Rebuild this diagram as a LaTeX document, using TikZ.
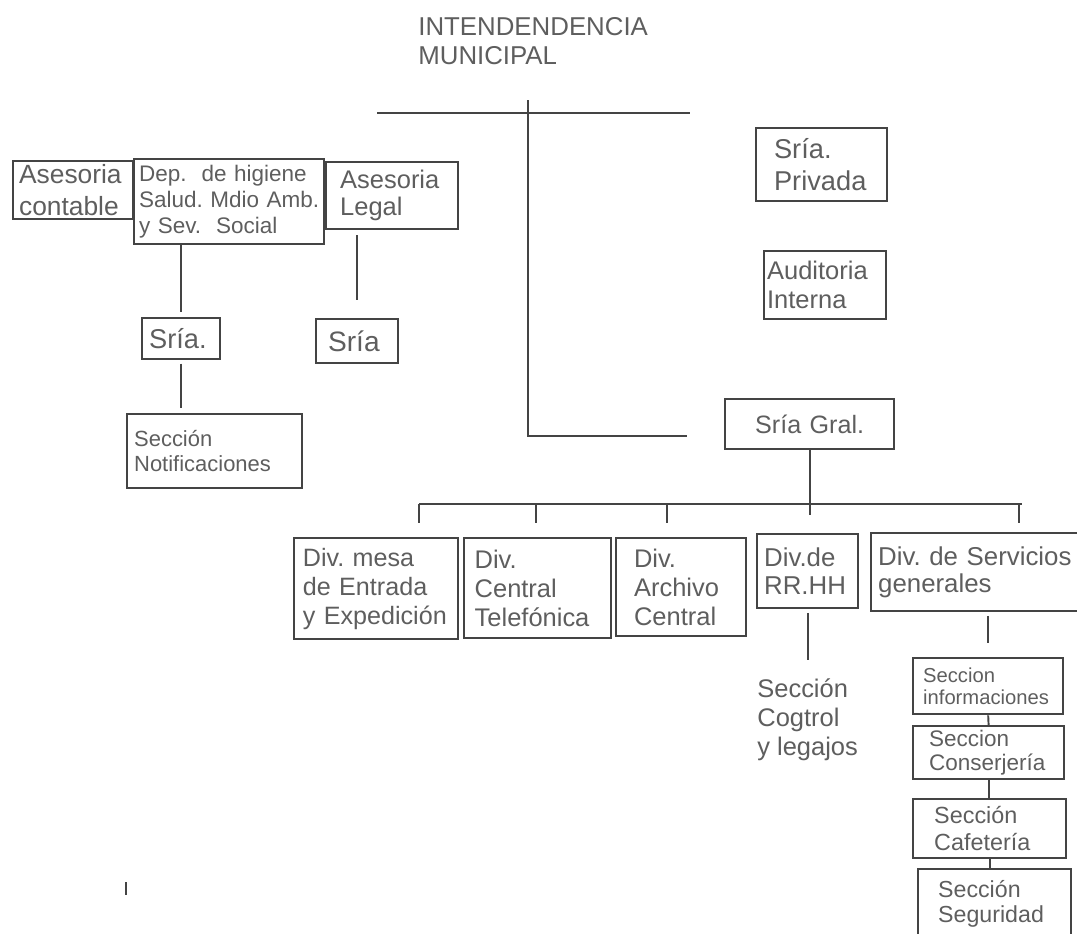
\documentclass[tikz,border=0pt]{standalone}
\usepackage{fontspec}
\setmainfont{Liberation Sans}
\definecolor{linegray}{HTML}{444444}
\definecolor{textgray}{HTML}{5E5E5E}
\newcommand{\fsz}[2]{\fontsize{#1}{#2}\selectfont}
\tikzset{
  unit/.style={draw=linegray, line width=1.3pt, text=textgray, anchor=north west, align=left, inner ysep=2pt},
  link/.style={draw=linegray, line width=1.1pt},
}

\begin{document}
\begin{tikzpicture}[x=0.02cm, y=-0.02cm]
        \useasboundingbox (0,0) rectangle (1077,933);
        % head
        \node[anchor=north west, inner sep=0pt, align=left, text=textgray, font=\fsz{14.7}{16.5}] (title) at (418,17) {INTENDENDENCIA\\MUNICIPAL};
        \coordinate (topL) at (377,113);
        \coordinate (topR) at (690,113);
        \coordinate (stemtop) at (528,100);
        \coordinate (botR) at (687,436);
        \draw[link] (topL) -- (topR);
        \draw[link] (stemtop) |- (botR);
        % left branch
        \node[unit, font=\fsz{15}{18}, inner xsep=3.4pt, text width=61.5pt, minimum height=32.4pt] (asecont) at (12,160) {Asesoria\\contable};
        \node[unit, font=\fsz{12.8}{15}, inner xsep=2.8pt, text width=102.5pt, minimum height=48.4pt] (dephig) at (133,158) {\mbox{Dep.\ \ de higiene}\\\mbox{Salud.\ Mdio Amb.}\\\mbox{y Sev.\ \ Social}};
        \node[unit, font=\fsz{14.5}{15.3}, inner xsep=8pt, text width=59pt, minimum height=38.1pt] (aselegal) at (325,161) {Asesoria\\Legal};
        \node[unit, font=\fsz{15.5}{17}, inner xsep=4pt, text width=36.4pt, minimum height=23.3pt] (sria1) at (141,317) {Sría.};
        \node[unit, font=\fsz{12.5}{14}, inner xsep=4pt, text width=91.6pt, minimum height=42.1pt] (notif) at (126,413) {Sección\\Notificaciones};
        \node[unit, font=\fsz{16}{17}, inner xsep=6.8pt, text width=33.1pt, minimum height=25pt] (sria2) at (315,318) {Sría};
        \draw[link, shorten >=3pt] (dephig.south -| sria1.north) -- (sria1.north);
        \draw[link, shorten <=2pt, shorten >=3pt] (sria1.south) -- (sria1.south |- notif.north);
        \draw[link, shorten <=3pt, shorten >=10pt] (aselegal.south -| sria2.north) -- (sria2.north);
        % right column
        \node[unit, font=\fsz{15.5}{18}, inner xsep=10.2pt, text width=54.1pt, minimum height=41.5pt] (sriapriv) at (755,127) {Sría.\\Privada};
        \node[unit, font=\fsz{14.5}{16.5}, inner xsep=1.7pt, text width=66pt, minimum height=38.7pt] (auditoria) at (763,250) {Auditoria\\Interna};
        \node[unit, font=\fsz{14.3}{16}, align=center, inner xsep=3pt, text width=90.2pt, minimum height=28.5pt] (sriagral) at (724,398) {Sría Gral.};
        % divisions
        \node[unit, font=\fsz{14.3}{16.5}, inner xsep=5pt, text width=83.3pt, minimum height=57.5pt] (divmesa) at (293,537) {Div.\ mesa\\de Entrada\\y Expedición};
        \node[unit, font=\fsz{14.5}{16.5}, inner xsep=6pt, text width=71.6pt, minimum height=56.9pt] (divtel) at (463,537) {Div.\\Central\\Telefónica};
        \node[unit, font=\fsz{14.5}{16.5}, inner xsep=10.2pt, text width=53.6pt, minimum height=55.8pt] (divarch) at (615,537) {Div.\\Archivo\\Central};
        \node[unit, font=\fsz{14.7}{16}, inner xsep=4pt, text width=49.5pt, minimum height=42.1pt] (divrrhh) at (756,533) {Div.de\\RR.HH};
        \node[unit, font=\fsz{14.7}{15.5}, inner xsep=4pt, text width=112pt, minimum height=44.4pt] (divserv) at (870,532) {Div.\ de Servicios\\generales};
        \coordinate (busL) at (419,504);
        \coordinate (busR) at (1022,504);
        \coordinate (t2) at (536,504);
        \coordinate (t3) at (667,504);
        \coordinate (t5) at (1019,504);
        \draw[link] (busL) -- (busR);
        \draw[link] (sriagral.south) -- ++(0,65);
        \foreach \t in {busL,t2,t3,t5}
          \draw[link] (\t) -- ++(0,19);
        % sections
        \node[anchor=north west, inner sep=0pt, align=left, text=textgray, font=\fsz{14.5}{16.5}] (cogtrol) at (757,678) {Sección\\Cogtrol\\y legajos};
        \node[unit, font=\fsz{11.5}{12.5}, inner xsep=5.7pt, text width=74pt, minimum height=31.9pt] (secinfo) at (912,657) {Seccion\\informaciones};
        \node[unit, font=\fsz{12.8}{14}, inner xsep=9.1pt, text width=67.7pt, minimum height=30.2pt] (secconser) at (912,725) {Seccion\\Conserjería};
        \node[unit, font=\fsz{13.3}{15.3}, inner xsep=12pt, text width=63pt, minimum height=33.6pt] (seccafe) at (912,798) {Sección\\Cafetería};
        \node[unit, font=\fsz{13.2}{14.2}, inner xsep=11.4pt, text width=64.2pt, minimum height=39.8pt] (secseg) at (917,868) {Sección\\Seguridad};
        \draw[link, shorten <=2pt, shorten >=10pt] (divrrhh.south) -- (divrrhh.south |- cogtrol.north);
        \draw[link, shorten <=2pt, shorten >=8pt] (secinfo.north |- divserv.south) -- (secinfo.north);
        \draw[link] (secinfo.south) -- (secconser.north);
        \draw[link] (secconser.south) -- (secconser.south |- seccafe.north);
        \draw[link] (seccafe.south) -- (seccafe.south |- secseg.north);
        % stray mark
        \draw[link, line width=1.5pt] (126,882) -- (126,895);
\end{tikzpicture}
\end{document}
